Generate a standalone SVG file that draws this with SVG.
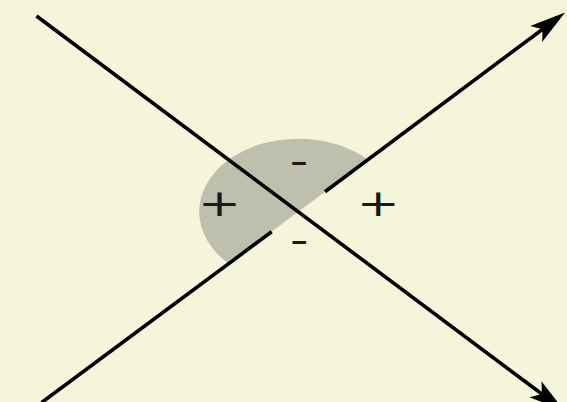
<svg xmlns="http://www.w3.org/2000/svg" width="567" height="402" viewBox="0 0 567 402">
  <style>
    .ln { stroke: #000; stroke-width: 3.6; fill: none; }
    .sign { font-family: "DejaVu Sans", sans-serif; font-size: 38px; fill: #1a1a1a; text-anchor: middle; }
  </style>
  <defs>
    <marker id="arrow" markerUnits="userSpaceOnUse" markerWidth="40" markerHeight="24" viewBox="0 -12 40 24" refX="8" refY="0" orient="auto" overflow="visible">
      <path d="M36,0 L0,-10 L8,0 L0,10 Z" fill="#000"/>
    </marker>
  </defs>
  <rect width="567" height="402" fill="#f5f5dc"/>
  <g id="region">
    <path d="M368.0,159.8 A99,73 0 0 0 228.6,263.6 Z" fill="#bfbfae"/>
  </g>
  <g id="connectors">
    <line class="ln" x1="36.5" y1="16" x2="541.9" y2="394.0" marker-end="url(#arrow)"/>
    <line class="ln" x1="41.7" y1="402.5" x2="271.7" y2="231.7"/>
    <line class="ln" x1="325" y1="191.7" x2="542.6" y2="29.2" marker-end="url(#arrow)"/>
  </g>
  <g id="labels">
    <text class="sign" transform="translate(219.5,216) scale(1.35,1)">+</text>
    <text class="sign" transform="translate(378.3,215.5) scale(1.35,1)">+</text>
    <text class="sign" transform="translate(299,173.7) scale(1.35,1)">-</text>
    <text class="sign" transform="translate(299.3,252.7) scale(1.35,1)">-</text>
  </g>
</svg>
